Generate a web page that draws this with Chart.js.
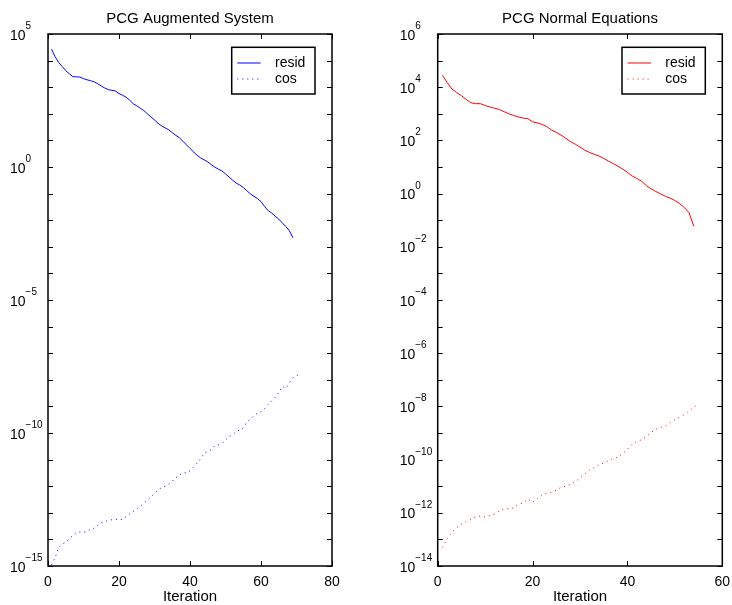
<!DOCTYPE html>
<html>
<head>
<meta charset="utf-8">
<script src="https://cdn.jsdelivr.net/npm/chart.js@4.4.1/dist/chart.umd.min.js"></script>
<style>
  html, body { margin: 0; padding: 0; background: #fff; }
  #wrap { position: relative; width: 732px; height: 605px; }
  canvas { position: absolute; top: 0; }
</style>
</head>
<body>
<div id="wrap">
  <canvas id="aug-chart" width="366" height="605" style="left:0"></canvas>
  <canvas id="normal-chart" width="366" height="605" style="left:366px"></canvas>
</div>
<script>
// PCG Augmented System
const augResid = [
  2.69e4, 1.41e4, 8.5e3, 6.0e3, 4.2e3, 3.2e3, 2.5e3, 2.45e3, 2.4e3, 2.1e3,
  1.9e3, 1.75e3, 1.6e3, 1.35e3, 1.1e3, 930, 810, 760, 720, 575,
  500, 420, 325, 240, 200, 162, 132, 100, 76, 59,
  44, 35, 29.5, 25, 19.5, 15.5, 12.6, 9.3, 6.8, 5.0,
  3.7, 2.75, 2.2, 1.86, 1.55, 1.23, 0.98, 0.83, 0.71, 0.55,
  0.42, 0.32, 0.25, 0.21, 0.17, 0.129, 0.098, 0.079, 0.065, 0.05,
  0.033, 0.023, 0.0186, 0.0141, 0.011, 0.0079, 0.0058, 0.004, 0.0022,
];
const augCos = [
  1.12e-15, 2.0e-15, 5.0e-15, 6.6e-15, 7.9e-15, 1.05e-14, 1.41e-14, 1.82e-14, 1.9e-14, 1.82e-14,
  2.0e-14, 2.45e-14, 2.63e-14, 3.4e-14, 4.2e-14, 4.8e-14, 5.0e-14, 5.5e-14, 5.75e-14, 5.4e-14,
  5.75e-14, 7.2e-14, 9.1e-14, 1.12e-13, 1.35e-13, 1.74e-13, 2.3e-13, 3.0e-13, 4.0e-13, 5.4e-13,
  7.2e-13, 8.9e-13, 1.0e-12, 1.2e-12, 1.55e-12, 2.1e-12, 2.6e-12, 3.2e-12, 3.2e-12, 3.8e-12,
  5.2e-12, 7.4e-12, 1.1e-11, 1.7e-11, 2.05e-11, 2.35e-11, 3.4e-11, 3.55e-11, 4.0e-11, 5.5e-11,
  7.4e-11, 8.7e-11, 1.1e-10, 1.32e-10, 1.55e-10, 2.6e-10, 3.3e-10, 4.5e-10, 5.6e-10, 6.2e-10,
  8.3e-10, 1.17e-9, 1.62e-9, 2.2e-9, 3.3e-9, 5.6e-9, 4.8e-9, 7.6e-9, 1.2e-8, 1.41e-8,
  1.66e-8,
];

// PCG Normal Equations
const normResid = [
  2.8e4, 1.5e4, 8.5e3, 6.3e3, 4.8e3, 3.5e3, 2.6e3, 2.4e3, 2.4e3, 2.05e3,
  1.8e3, 1.62e3, 1.45e3, 1.2e3, 1.0e3, 870, 760, 690, 660, 500,
  455, 400, 330, 245, 200, 158, 120, 91, 72, 56,
  43, 35, 30, 26, 21, 16.6, 13.5, 10.7, 8.3, 6.3,
  4.6, 3.7, 2.9, 2.0, 1.5, 1.2, 0.98, 0.79, 0.68, 0.55,
  0.42, 0.30, 0.19, 0.059,
];
const normCos = [
  5.0e-14, 1.05e-13, 1.9e-13, 2.8e-13, 3.7e-13, 4.7e-13, 5.6e-13, 7.1e-13, 7.6e-13, 6.9e-13,
  7.9e-13, 9.1e-13, 1.17e-12, 1.38e-12, 1.45e-12, 1.51e-12, 2.1e-12, 2.3e-12, 3.3e-12, 2.5e-12,
  3.4e-12, 4.7e-12, 5.4e-12, 6.0e-12, 7.1e-12, 9.1e-12, 1.0e-11, 1.17e-11, 1.48e-11, 2.0e-11,
  2.9e-11, 4.0e-11, 5.0e-11, 6.5e-11, 7.4e-11, 9.1e-11, 1.1e-10, 1.23e-10, 1.7e-10, 2.45e-10,
  3.8e-10, 4.8e-10, 5.6e-10, 7.4e-10, 1.05e-9, 1.38e-9, 1.62e-9, 1.82e-9, 2.4e-9, 3.2e-9,
  3.9e-9, 4.9e-9, 6.8e-9, 9.1e-9, 1.26e-8,
];

// axis ranges and tick labels (decade exponents)
const augXTicks = [0, 20, 40, 60, 80];
const augYLabelExps = [5, 0, -5, -10, -15];
const normXTicks = [0, 20, 40, 60];
const normYLabelExps = [6, 4, 2, 0, -2, -4, -6, -8, -10, -12, -14];

const FONT = "'Liberation Sans', Arial, Helvetica, sans-serif";
Chart.defaults.font.family = FONT;
Chart.defaults.color = "#000";

function toPoints(values) {
  return values.map((v, i) => ({ x: i + 1, y: v }));
}

function fmtExp(e) {
  return e < 0 ? "\u2212" + Math.abs(e) : String(e);
}

// MATLAB style box, inward ticks, 10^n labels, title and legend
const matlabAxes = {
  id: "matlabAxes",
  afterDraw(chart, args, opts) {
    const { ctx, chartArea: a } = chart;
    const xs = chart.scales.x;
    const ys = chart.scales.y;
    ctx.save();

    ctx.strokeStyle = "#000";
    ctx.lineWidth = 1;
    ctx.beginPath();
    xs.ticks.forEach((t) => {
      const px = Math.round(xs.getPixelForValue(t.value)) + 0.5;
      ctx.moveTo(px, a.bottom);
      ctx.lineTo(px, a.bottom - 5);
      ctx.moveTo(px, a.top);
      ctx.lineTo(px, a.top + 5);
    });
    ys.ticks.forEach((t) => {
      const py = Math.round(ys.getPixelForValue(t.value)) + 0.5;
      ctx.moveTo(a.left, py);
      ctx.lineTo(a.left + 5, py);
      ctx.moveTo(a.right, py);
      ctx.lineTo(a.right - 5, py);
    });
    ctx.stroke();

    ctx.lineWidth = 1.5;
    ctx.strokeRect(a.left, a.top, a.right - a.left, a.bottom - a.top);

    // title
    ctx.fillStyle = "#000";
    ctx.font = "15px " + FONT;
    ctx.textAlign = "center";
    ctx.textBaseline = "alphabetic";
    ctx.fillText(opts.title, (a.left + a.right) / 2, a.top - 11.5);

    // y tick labels
    ctx.textAlign = "left";
    opts.labelExps.forEach((e) => {
      const py = ys.getPixelForValue(Math.pow(10, e));
      const x0 = a.left - 38;
      ctx.font = "14px " + FONT;
      ctx.fillText("10", x0, py + 5.5);
      const w = ctx.measureText("10").width;
      ctx.font = "10px " + FONT;
      ctx.fillText(fmtExp(e), x0 + w, py - 5);
    });

    // legend
    const bw = 83.3, bh = 46.7;
    const bx = a.right - 17 - bw;
    const by = a.top + 13.3;
    ctx.fillStyle = "#fff";
    ctx.fillRect(bx, by, bw, bh);
    ctx.strokeStyle = "#000";
    ctx.lineWidth = 1.5;
    ctx.strokeRect(bx, by, bw, bh);
    chart.data.datasets.forEach((ds, i) => {
      const ry = by + 15.7 + i * 16;
      ctx.beginPath();
      ctx.strokeStyle = ds.borderColor;
      ctx.lineWidth = ds.borderWidth;
      ctx.setLineDash(ds.borderDash || []);
      ctx.moveTo(bx + 5.6, ry);
      ctx.lineTo(bx + 29, ry);
      ctx.stroke();
      ctx.setLineDash([]);
      ctx.fillStyle = "#000";
      ctx.font = "14px " + FONT;
      ctx.textBaseline = "middle";
      ctx.fillText(ds.label, bx + 43.3, ry);
    });
    ctx.restore();
  },
};

function makeChart(id, cfg) {
  const ctx = document.getElementById(id).getContext("2d");
  return new Chart(ctx, {
    type: "line",
    data: {
      datasets: [
        {
          label: "resid",
          data: toPoints(cfg.resid),
          borderColor: cfg.color,
          borderWidth: 1,
          pointRadius: 0,
          tension: 0,
        },
        {
          label: "cos",
          data: toPoints(cfg.cos),
          borderColor: cfg.color,
          borderWidth: 1,
          borderDash: [1, 4],
          pointRadius: 0,
          tension: 0,
        },
      ],
    },
    options: {
      responsive: false,
      animation: false,
      events: [],
      layout: {
        padding: { left: 0, right: cfg.padRight, top: 34, bottom: 0 },
      },
      plugins: {
        legend: { display: false },
        tooltip: { enabled: false },
        title: { display: false },
        matlabAxes: { labelExps: cfg.labelExps, title: cfg.title },
      },
      scales: {
        x: {
          type: "linear",
          min: 0,
          max: cfg.xTicks[cfg.xTicks.length - 1],
          grid: { display: false, drawTicks: false },
          border: { display: false },
          afterBuildTicks: (scale) => {
            scale.ticks = cfg.xTicks.map((v) => ({ value: v }));
          },
          ticks: {
            color: "#000",
            font: { size: 14 },
            padding: 8,
            maxRotation: 0,
            autoSkip: false,
          },
          title: {
            display: true,
            text: "Iteration",
            color: "#000",
            font: { size: 15, lineHeight: 1.1 },
            padding: { top: 0, bottom: 0 },
          },
          afterFit: (scale) => {
            scale.height = 39;
            scale.paddingLeft = 0;
            scale.paddingRight = 0;
          },
        },
        y: {
          type: "logarithmic",
          min: Math.pow(10, cfg.yMinExp),
          max: Math.pow(10, cfg.yMaxExp),
          grid: { display: false, drawTicks: false },
          border: { display: false },
          ticks: { display: false },
          afterBuildTicks: (scale) => {
            const t = [];
            for (let e = cfg.yMinExp; e <= cfg.yMaxExp; e++) {
              t.push({ value: Math.pow(10, e) });
            }
            scale.ticks = t;
          },
          afterFit: (scale) => {
            scale.width = cfg.yWidth;
          },
        },
      },
    },
    plugins: [matlabAxes],
  });
}

const augChart = makeChart("aug-chart", {
  title: "PCG Augmented System",
  resid: augResid,
  cos: augCos,
  color: "#0000ff",
  xTicks: augXTicks,
  labelExps: augYLabelExps,
  yMinExp: -15,
  yMaxExp: 5,
  yWidth: 48,
  padRight: 34,
});

const normChart = makeChart("normal-chart", {
  title: "PCG Normal Equations",
  resid: normResid,
  cos: normCos,
  color: "#ff0000",
  xTicks: normXTicks,
  labelExps: normYLabelExps,
  yMinExp: -14,
  yMaxExp: 6,
  yWidth: 71.7,
  padRight: 9.7,
});
</script>
</body>
</html>
